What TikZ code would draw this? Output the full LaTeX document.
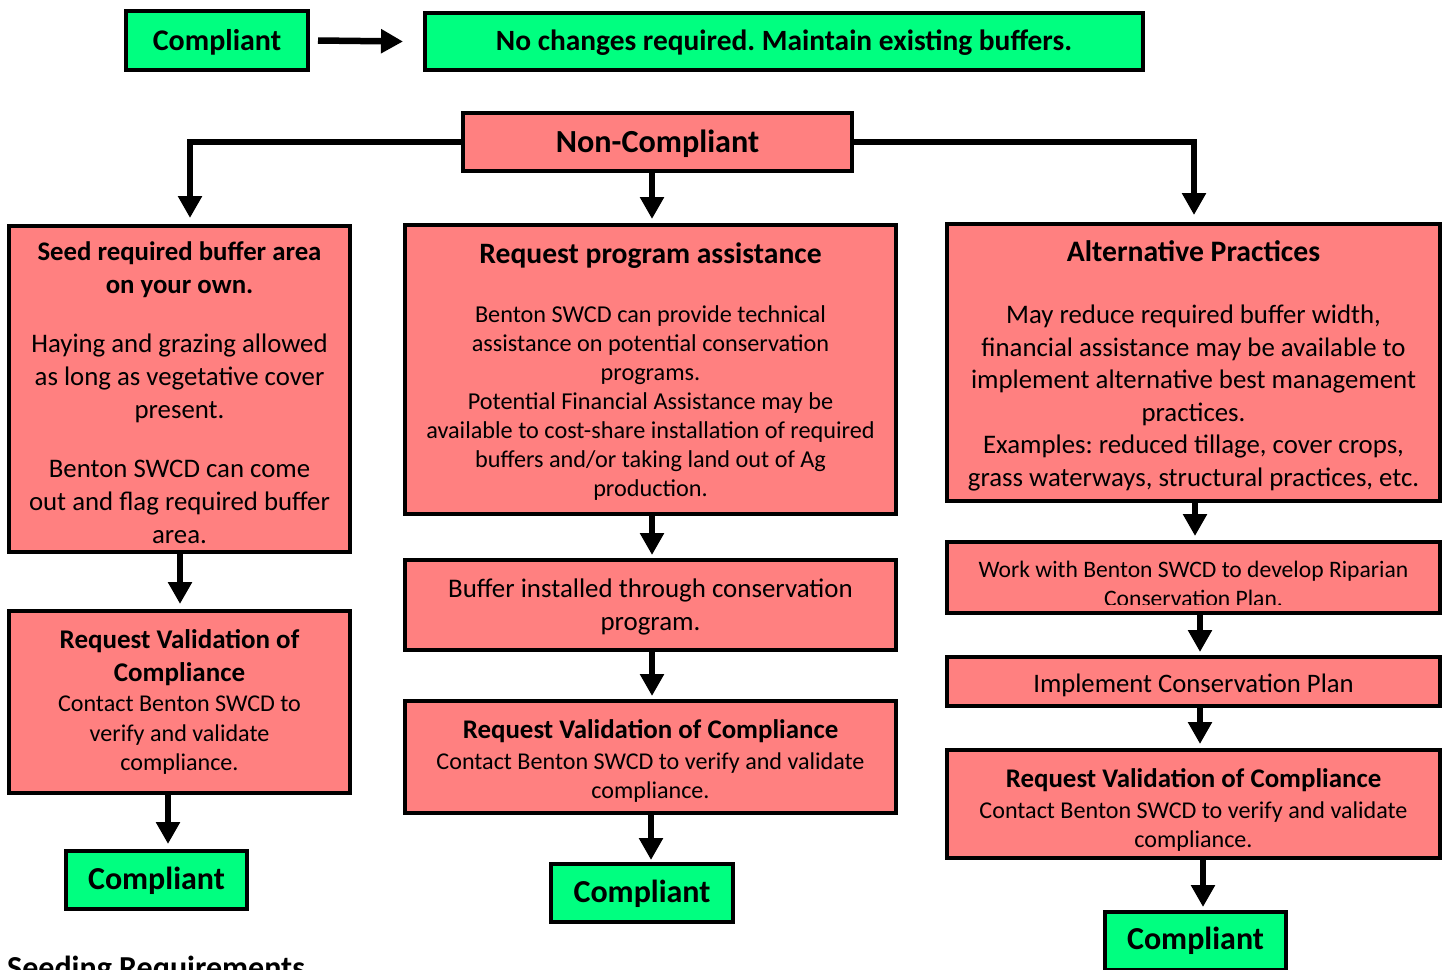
\documentclass[tikz,border=0pt]{standalone}
\usepackage{fontspec}
\setmainfont{Carlito}
\usetikzlibrary{arrows.meta,calc}
\definecolor{cgreen}{RGB}{0,255,128}
\definecolor{cpink}{RGB}{255,128,128}
\newcommand{\fs}[2]{\fontsize{#1}{#2}\selectfont}
\newcommand{\pushdown}[1]{\rule{0pt}{\dimexpr\fontcharht\font`l+#1pt*2\relax}}
\frenchspacing
\begin{document}
\begin{tikzpicture}[x=1pt,y=-1pt,
 box/.style={draw=black, line width=4pt, inner sep=0pt, align=center},
 gbox/.style={box, fill=cgreen},
 pbox/.style={box, fill=cpink},
 para/.style={align=flush center},
 arr/.style={line width=6.5pt, line join=miter, -{Triangle[width=23pt,length=22pt]}},
]
\clip (0,0) rectangle (1447,969);
\fill[white] (0,0) rectangle (1447,969);

% top row
\node[gbox, font=\fs{30}{36}\bfseries, minimum width=182pt, minimum height=59pt] (ctop) at (217,40.5) {\pushdown{1.5}Compliant};
\node[gbox, font=\fs{29.4}{36}\bfseries, minimum width=718pt, minimum height=57pt] (nochange) at (784,41.5) {\pushdown{1.5}No changes required. Maintain existing buffers.};
\node[pbox, font=\fs{32.2}{38}\bfseries, minimum width=389pt, minimum height=58pt] (nc) at (657.5,142) {\pushdown{1.5}Non-Compliant};

% left column
\node[pbox, para, font=\fs{26.8}{33}, minimum width=341pt, minimum height=326pt, text width=336pt] (seed) at (179.5,389)
 {{\bfseries\pushdown{4}Seed required buffer area}\\\textbf{on your own.}\\[26pt]
  Haying and grazing allowed\\as long as vegetative cover\\present.\\[26pt]
  Benton SWCD can come\\out and flag required buffer\\area.\par};
\node[pbox, para, font=\fs{24.1}{29.5}, minimum width=341pt, minimum height=182pt, text width=336pt] (leftval) at (179.5,702)
 {{\fs{27}{29.5}\bfseries Request Validation of}\\[3.5pt]{\fs{27}{29.5}\bfseries Compliance}\\[0.5pt]
  Contact Benton SWCD to\\verify and validate\\compliance.\par};
\node[gbox, font=\fs{32}{38}\bfseries, minimum width=181pt, minimum height=58pt] (leftcompl) at (156.5,880) {\pushdown{1}Compliant};

% middle column
\node[pbox, para, font=\fs{24.25}{29}, minimum width=491pt, minimum height=289pt, text width=486pt] (reqprog) at (650.5,369.5)
 {{\fs{29.6}{29}\bfseries\pushdown{2.5}Request program assistance}\\[30pt]
  Benton SWCD can provide technical\\assistance on potential conservation\\programs.\\
  Potential Financial Assistance may be\\available to cost-share installation of required\\buffers and/or taking land out of Ag\\production.\par};
\node[pbox, para, font=\fs{26.9}{33}, minimum width=491pt, minimum height=90pt, text width=486pt] (buffer) at (650.5,605)
 {\pushdown{2}Buffer installed through conservation\\program.\par};
\node[pbox, para, font=\fs{24.1}{29}, minimum width=491pt, minimum height=112pt, text width=486pt] (midval) at (650.5,757)
 {{\fs{26.9}{29}\bfseries\pushdown{3.5}Request Validation of Compliance}\\[2pt]
  Contact Benton SWCD to verify and validate\\compliance.\par};
\node[gbox, font=\fs{32}{38}\bfseries, minimum width=182pt, minimum height=58pt] (midcompl) at (642,893) {\pushdown{1}Compliant};

% right column
\node[pbox, para, font=\fs{26.8}{32.5}, minimum width=493pt, minimum height=277pt, text width=488pt] (alt) at (1193.5,362.5)
 {{\fs{29.7}{32.5}\bfseries\pushdown{3.5}Alternative Practices}\\[29.5pt]
  May reduce required buffer width,\\financial assistance may be available to\\implement alternative best management\\practices.\\
  Examples: reduced tillage, cover crops,\\grass waterways, structural practices, etc.\par};
\node[pbox, minimum width=493pt, minimum height=71pt] (work) at (1193.5,577.5) {};
\begin{scope}
\clip ($(work.south west)+(2pt,10.5pt)$) rectangle ($(work.north east)+(-2pt,-2pt)$);
\node[para, inner sep=0pt, text width=488pt, font=\fs{23.6}{29}] (worktext) at ($(work.center)+(0,-6pt)$)
 {Work with Benton SWCD to develop Riparian\\Conservation Plan.\par};
\end{scope}
\node[pbox, font=\fs{26.7}{32}, minimum width=493pt, minimum height=49pt] (impl) at (1193.5,681.5)
 {\pushdown{4}Implement Conservation Plan};
\node[pbox, para, font=\fs{24.1}{29}, minimum width=493pt, minimum height=108pt, text width=488pt] (rightval) at (1193.5,804)
 {{\fs{26.9}{29}\bfseries\pushdown{5.5}Request Validation of Compliance}\\[2pt]
  Contact Benton SWCD to verify and validate\\compliance.\par};
\node[gbox, font=\fs{32}{38}\bfseries, minimum width=181pt, minimum height=58pt] (rightcompl) at (1195.5,941) {Compliant};

\node[anchor=base west, inner sep=0pt, font=\fs{32}{38}\bfseries] (seeding) at (7,978) {Seeding Requirements};

% connectors
\draw[arr] ([xshift=8pt]ctop.east) -- ([xshift=-20pt]nochange.west);
\draw[arr] (nc.west) -| ([xshift=10.5pt,yshift=6pt]seed.north);
\draw[arr] (nc.east) -| ([xshift=0.5pt,yshift=7pt]alt.north);
\draw[arr] ([xshift=1.5pt]reqprog.north |- nc.south) -- ([xshift=1.5pt,yshift=4pt]reqprog.north);
\draw[arr] ([xshift=0.5pt]seed.south) -- ([xshift=0.5pt,yshift=5pt]leftval.north);
\draw[arr] ([xshift=11.5pt]leftcompl.north |- leftval.south) -- ([xshift=11.5pt,yshift=5pt]leftcompl.north);
\draw[arr] ([xshift=1.5pt]reqprog.south) -- ([xshift=1.5pt,yshift=3pt]buffer.north);
\draw[arr] ([xshift=1.5pt]buffer.south) -- ([xshift=1.5pt,yshift=3pt]midval.north);
\draw[arr] ([xshift=9pt]midcompl.north |- midval.south) -- ([xshift=9pt,yshift=2pt]midcompl.north);
\draw[arr] ([xshift=1.5pt]alt.south) -- ([xshift=1.5pt,yshift=4pt]work.north);
\draw[arr] ([xshift=6.5pt]work.south) -- ([xshift=6.5pt,yshift=3pt]impl.north);
\draw[arr] ([xshift=6.5pt]impl.south) -- ([xshift=6.5pt,yshift=4pt]rightval.north);
\draw[arr] ([xshift=7.5pt]rightcompl.north |- rightval.south) -- ([xshift=7.5pt,yshift=3pt]rightcompl.north);
\end{tikzpicture}
\end{document}
